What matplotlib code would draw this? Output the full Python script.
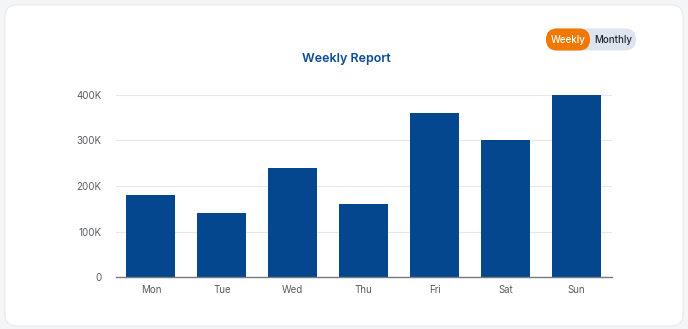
"""Weekly report bar chart."""

import matplotlib

matplotlib.use("Agg")
import matplotlib.pyplot as plt
from matplotlib.patches import FancyBboxPatch

plt.rcParams["font.family"] = ["Inter", "DejaVu Sans"]

days = ["Mon", "Tue", "Wed", "Thu", "Fri", "Sat", "Sun"]
sales = [180000, 140000, 240000, 160000, 360000, 300000, 400000]
y_ticks = [0, 100000, 200000, 300000, 400000]
y_labels = ["0", "100K", "200K", "300K", "400K"]

W, H = 688, 329
fig = plt.figure(figsize=(W / 100, H / 100), dpi=100)
fig.patch.set_facecolor("#f4f5f7")

# card background
bg = fig.add_axes([0, 0, 1, 1])
bg.set_xlim(0, W)
bg.set_ylim(H, 0)
bg.axis("off")
bg.add_patch(FancyBboxPatch((5, 5), W - 10, H - 8, boxstyle="round,pad=0,rounding_size=12",
                            facecolor="white", edgecolor="#e8eaee", linewidth=0.8))

# toggle pill
bg.add_patch(FancyBboxPatch((546, 28.5), 90, 22, boxstyle="round,pad=0,rounding_size=11",
                            facecolor="#dde4ee", edgecolor="none"))
bg.add_patch(FancyBboxPatch((546, 28.5), 44, 22, boxstyle="round,pad=0,rounding_size=11",
                            facecolor="#f07800", edgecolor="none"))
bg.text(568, 40, "Weekly", color="white", fontsize=7, ha="center", va="center", fontweight="medium")
bg.text(613, 40, "Monthly", color="#1f2733", fontsize=7, ha="center", va="center", fontweight="medium")
bg.text(346, 59, "Weekly Report", color="#0b4a94", fontsize=9, ha="center", va="center", fontweight="semibold")

ax = fig.add_axes([115.5 / W, 1 - 277 / H, (612 - 115.5) / W, (277 - 95) / H])
ax.bar(range(len(days)), sales, width=0.69, color="#05478e")
ax.set_xlim(-0.5, len(days) - 0.5)
ax.set_ylim(0, 400000)
ax.set_yticks(y_ticks)
ax.set_yticklabels(y_labels)
ax.set_xticks(range(len(days)))
ax.set_xticklabels(days)
ax.grid(axis="y", color="#e6e8eb", linewidth=0.8)
ax.set_axisbelow(True)
for side in ["top", "right", "left"]:
    ax.spines[side].set_visible(False)
ax.spines["bottom"].set_color("#777b80")
ax.spines["bottom"].set_linewidth(1.0)
ax.tick_params(axis="y", length=0, pad=10, labelsize=7, labelcolor="#555a60")
ax.tick_params(axis="x", length=0, pad=6, labelsize=7, labelcolor="#555a60")
ax.set_facecolor("none")

fig.savefig("out.png", dpi=100)
